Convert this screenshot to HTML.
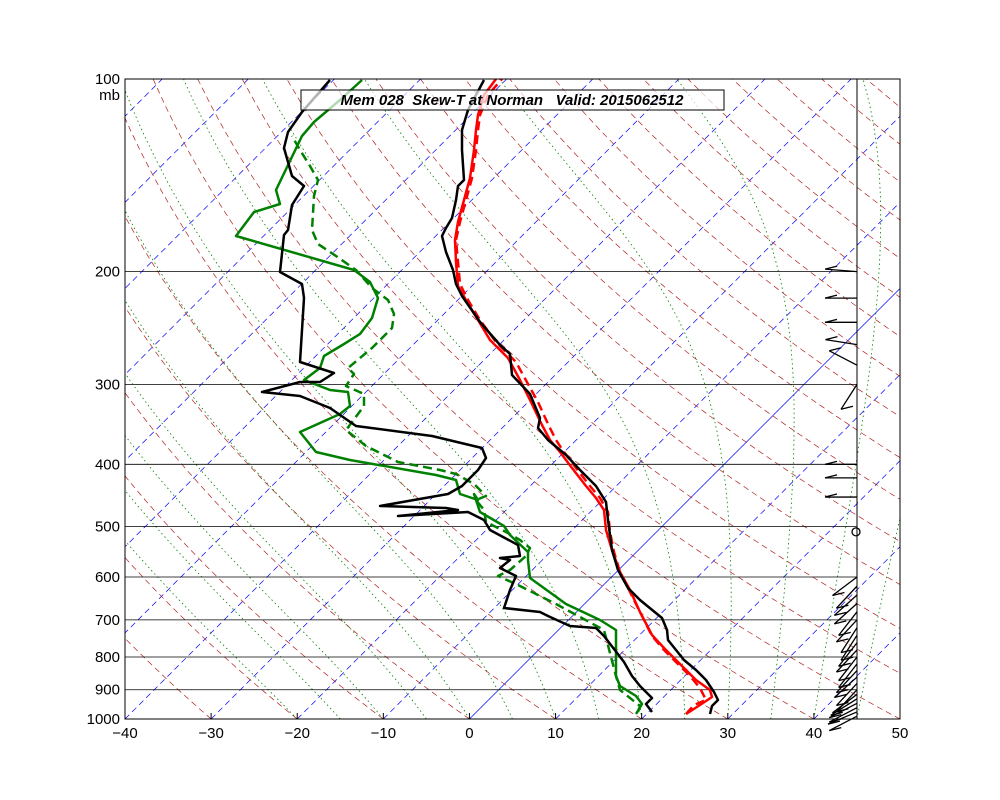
<!DOCTYPE html>
<html><head><meta charset="utf-8"><style>
html,body{margin:0;padding:0;background:#fff;}
svg{display:block;font-family:"Liberation Sans",sans-serif;}
</style></head><body>
<svg id="s" width="1000" height="800" viewBox="0 0 1000 800" xmlns="http://www.w3.org/2000/svg">
<defs><clipPath id="c"><rect x="125" y="79" width="775" height="640"/></clipPath></defs>
<rect width="1000" height="800" fill="#fff"/>
<g id="bg" clip-path="url(#c)"></g>
<g clip-path="url(#c)" fill="none" stroke-width="2.5" stroke-linejoin="round">
<polyline stroke="#008000" stroke-dasharray="9,5" points="638,712 640,706 620,690 616,676 604,630 556,604 520,586 498,576 510,570 526,556 530,548 520,540 506,532 486,522 484,510 476,500 486,496 474,484 456,474 440,470 398,462 366,446 346,430 364,406 364,394 346,386 354,374 348,368 372,348 392,328 394,314 388,300 372,288 356,270 336,256 318,244 312,230 314,196 318,180 310,166 300,150 292,136"/>
<polyline stroke="#008000" points="636,714 642,704 636,696 620,686 616,676 616,630 600,620 566,604 530,578 528,560 528,552 510,535 504,526 480,512 474,494 478,500 460,494 456,480 436,475 350,460 316,452 300,432 340,414 350,406 348,392 330,390 304,380 320,368 324,356 344,344 360,334 372,318 378,298 370,282 354,270 236,236 254,212 280,204 276,190 302,136 314,122 340,100 362,80"/>
<polyline stroke="#ff0000" stroke-dasharray="9,5" points="686,714 694,705 706,700 700,688 690,676 678,664 664,650 652,636 640,612 630,592 620,572 614,552 610,532 608,512 600,498 590,486 576,468 564,452 556,440 548,424 538,402 528,384 516,362 496,342 480,320 468,300 460,284 458,262 456,240 460,222 466,200 472,178 476,150 478,130 480,115 488,95 502,79"/>
<polyline stroke="#ff0000" points="686,714 700,705 712,697 710,690 696,680 688,672 676,660 664,648 652,635 640,612 630,590 620,572 612,550 606,530 604,510 596,498 586,486 572,468 560,452 550,440 542,425 530,400 520,380 508,358 490,340 478,320 466,300 458,286 456,262 455,240 458,222 464,200 470,178 474,150 476,130 478,115 484,95 496,79"/>
<polyline stroke="#000" points="710,714 712,706 718,700 714,692 706,680 696,670 684,660 668,640 667,630 662,618 640,600 628,588 618,570 612,550 608,520 606,502 596,486 580,470 566,455 548,440 538,428 540,418 530,394 512,375 510,354 500,345 480,322 462,296 456,284 453,270 446,252 442,236 446,228 452,218 456,200 458,186 464,180 462,150 462,130 468,110 476,95 484,80"/>
<polyline stroke="#000" points="652,712 646,704 652,698 640,686 632,676 624,662 604,636 596,628 570,626 548,616 540,612 504,608 510,590 516,576 500,568 510,560 500,558 520,556 518,545 490,530 484,520 468,512 398,516 458,510 446,508 380,506 448,494 462,486 478,470 486,458 482,448 432,436 356,426 330,408 300,396 262,392 300,382 320,382 334,373 300,362 304,298 302,284 280,272 284,235 288,230 292,205 304,186 292,176 284,148 288,132 302,112 330,80"/>
</g>
<g id="wb" stroke="#000" stroke-width="1.3" fill="none"></g>
<line x1="857" y1="79" x2="857" y2="719" stroke="#000"/>
<rect x="125" y="79" width="775" height="640" fill="none" stroke="#000"/>
<g id="lab" font-size="15" fill="#000"></g>
<rect x="301" y="90" width="423" height="20" fill="#fff" fill-opacity="0.7" stroke="#000"/>
<text x="512" y="105" text-anchor="middle" font-size="15" font-weight="bold" font-style="italic" style="white-space:pre" xml:space="preserve">Mem 028  Skew-T at Norman   Valid: 2015062512</text>
</svg>
<script>
(function(){
var NS="http://www.w3.org/2000/svg";
function Y(p){return 79+(Math.log10(p)-2)*640;}
function X(T,p){return 125+(T+40)*775/90+(719-Y(p));}
var bg=document.getElementById('bg'),lab=document.getElementById('lab'),wb=document.getElementById('wb');
function el(par,n,a){var e=document.createElementNS(NS,n);for(var k in a)e.setAttribute(k,a[k]);par.appendChild(e);return e;}
var ps=[];for(var p=1000;p>=100;p-=10)ps.push(p);
for(var T=-140;T<=50;T+=10){
 el(bg,'line',{x1:X(T,1000),y1:719,x2:X(T,100),y2:79,stroke:'#0000ff','stroke-width':0.7,'stroke-dasharray':T==0?'':'6,4'});
}
for(var th=-30;th<=250;th+=10){
 var pts=ps.map(function(p){var t=(th+273.15)*Math.pow(p/1000,0.286)-273.15;return X(t,p).toFixed(1)+','+Y(p).toFixed(1);});
 el(bg,'polyline',{points:pts.join(' '),fill:'none',stroke:'#b22222','stroke-width':0.7,'stroke-dasharray':'6,4'});
}
function es(t){return 6.112*Math.exp(17.67*t/(t+243.5));}
for(var t0=-20;t0<=45;t0+=5){
 var t=t0,pts=[];
 for(var p=1000;p>=100;p-=5){
  pts.push(X(t,p).toFixed(1)+','+Y(p).toFixed(1));
  var T=t+273.15,e=es(t),r=0.622*e/(p-e),L=2.5e6;
  var dTdp=(0.286*T+L*r/1004)/(p*(1+L*L*r*0.622/(1004*287*T*T)));
  t-=dTdp*5;
 }
 el(bg,'polyline',{points:pts.join(' '),fill:'none',stroke:'#008000','stroke-width':0.8,'stroke-dasharray':'1.5,3'});
}
[200,300,400,500,600,700,800,900].forEach(function(p){
 el(bg,'line',{x1:125,y1:Y(p),x2:857,y2:Y(p),stroke:'#000','stroke-width':0.8});
});
[100,200,300,400,500,600,700,800,900,1000].forEach(function(p){
 var t=el(lab,'text',{x:120,y:Y(p)+5,'text-anchor':'end'});t.textContent=p;
});
var m=el(lab,'text',{x:120,y:100,'text-anchor':'end'});m.textContent='mb';
for(var T=-40;T<=50;T+=10){
 var x=125+(T+40)*775/90;
 var t=el(lab,'text',{x:x,y:738,'text-anchor':'middle'});t.textContent=(T<0?'\u2212'+(-T):T);
 el(lab,'line',{x1:x,y1:719,x2:x,y2:713,stroke:'#000'});
}
var bs=[[990,240],[975,245],[960,240],[945,240],[930,235],[915,230],[900,220],[880,220],[860,225],[840,220],[820,215],[800,215],[780,220],[760,215],[740,210],[720,210],[700,220],[680,215],[660,225],[640,225],[620,220],[600,230],[450,270],[420,270],[400,270],[300,150],[280,300],[260,280],[240,270],[220,270],[200,275]];
bs.forEach(function(b){
 var y=Y(b[0]),a=b[1]*Math.PI/180,L=32;
 var dx=Math.sin(a)*L,dy=-Math.cos(a)*L;
 el(wb,'line',{x1:857,y1:y,x2:857-Math.abs(dx),y2:y+dy*0.9});
 el(wb,'line',{x1:857-Math.abs(dx),y1:y+dy*0.9,x2:857-Math.abs(dx)+12,y2:y+dy*0.9-3});
});
el(wb,'circle',{cx:856,cy:Y(510),r:4});
})();
</script>
</body></html>
